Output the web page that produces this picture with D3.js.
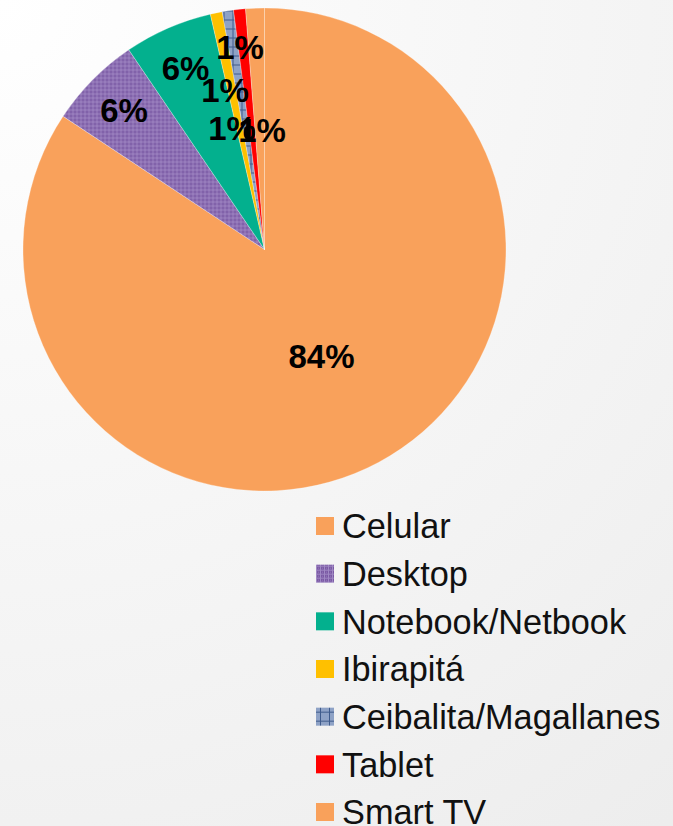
<!DOCTYPE html>
<html>
<head>
<meta charset="utf-8">
<script src="https://cdn.jsdelivr.net/npm/d3@7"></script>
<style>
  html, body { margin: 0; padding: 0; }
  body { width: 673px; height: 826px; overflow: hidden; }
</style>
</head>
<body>
<div id="pie-chart"></div>
<script>
(function() {
  var width = 673,
    height = 826;

  // categories and their share
  var categories = ["Celular", "Desktop", "Notebook/Netbook", "Ibirapitá", "Ceibalita/Magallanes", "Tablet", "Smart TV"]
  var shares = [84.3, 6.2, 5.9, 0.8, 0.75, 0.8, 1.25]
  var labels = ["84%", "6%", "6%", "1%", "1%", "1%", "1%"]

  // where Excel dropped each label: angle (deg from 12 o'clock) and fraction of radius
  var labelAngles = [151.8, 314.8, 336.5, 346.1, 353.1, 345.0, 358.8]
  var labelRadii = [0.5, 0.82, 0.82, 0.68, 0.845, 0.52, 0.495]

  var fills = ["#f9a15b", "url(#grid-small)", "#03b08e", "#ffc000", "url(#grid-large)", "#ff0000", "#f9a15b"]

  var cx = 264.5, cy = 249.5, radius = 241.5;

  var svg = d3.select("#pie-chart")
    .append("svg")
    .attr("width", width)
    .attr("height", height);

  var defs = svg.append("defs");

  var bg = defs.append("radialGradient")
    .attr("id", "bg")
    .attr("gradientUnits", "userSpaceOnUse")
    .attr("cx", 0).attr("cy", 0).attr("r", 1060);
  bg.append("stop").attr("offset", "0%").attr("stop-color", "#ffffff");
  bg.append("stop").attr("offset", "100%").attr("stop-color", "#ededed");

  // purple small-grid pattern (Desktop)
  var small = defs.append("pattern")
    .attr("id", "grid-small")
    .attr("patternUnits", "userSpaceOnUse")
    .attr("width", 4).attr("height", 4);
  small.append("rect").attr("width", 4).attr("height", 4).attr("fill", "#7b5aa4");
  small.append("rect").attr("x", 0).attr("y", 0).attr("width", 4).attr("height", 1).attr("fill", "#a088c4");
  small.append("rect").attr("x", 0).attr("y", 0).attr("width", 1).attr("height", 4).attr("fill", "#a088c4");
  small.append("rect").attr("x", 2).attr("y", 2).attr("width", 1).attr("height", 1).attr("fill", "#9478bb");

  // blue large-grid pattern (Ceibalita)
  var large = defs.append("pattern")
    .attr("id", "grid-large")
    .attr("patternUnits", "userSpaceOnUse")
    .attr("width", 9).attr("height", 9);
  large.append("rect").attr("width", 9).attr("height", 9).attr("fill", "#8ea2c6");
  large.append("rect").attr("x", 0).attr("y", 4).attr("width", 9).attr("height", 1).attr("fill", "#3f5b8c");
  large.append("rect").attr("x", 4).attr("y", 0).attr("width", 1).attr("height", 9).attr("fill", "#3f5b8c");

  svg.append("rect")
    .attr("width", width)
    .attr("height", height)
    .attr("fill", "url(#bg)");

  var colourScale = d3.scaleOrdinal().domain(categories).range(fills);

  var data = categories.map(function(c, i) {
    return { name: c, value: shares[i], label: labels[i], la: labelAngles[i], lr: labelRadii[i] }
  });

  var pie = d3.pie()
    .sort(null)
    .value(function(d) { return d.value });

  var arc = d3.arc()
    .innerRadius(0)
    .outerRadius(radius);

  var g = svg.append("g")
    .attr("transform", "translate(" + cx + "," + cy + ")");

  g.selectAll("path")
    .data(pie(data))
    .enter().append("path")
    .attr("d", arc)
    .attr("fill", function(d) { return colourScale(d.data.name) })
    .attr("stroke", "rgba(255,255,255,0.35)")
    .attr("stroke-width", 0.8);

  // slice labels
  g.selectAll("text.pct")
    .data(data)
    .enter().append("text")
    .attr("class", "pct")
    .attr("text-anchor", "middle")
    .attr("dy", "0.36em")
    .attr("x", function(d) { return Math.sin(d.la * Math.PI / 180) * d.lr * radius })
    .attr("y", function(d) { return -Math.cos(d.la * Math.PI / 180) * d.lr * radius })
    .text(function(d) { return d.label })
    .style("font-family", "Liberation Sans, Arial, sans-serif")
    .style("font-weight", "bold")
    .style("font-size", "33px")
    .style("fill", "#000");

  // legend
  var legendY = d3.scalePoint().domain(categories).range([526, 812]);

  var legend = svg.selectAll("g.legend")
    .data(categories)
    .enter().append("g")
    .attr("class", "legend")
    .attr("transform", function(d) { return "translate(316," + legendY(d) + ")" });

  legend.append("rect")
    .attr("x", 0)
    .attr("y", -9)
    .attr("width", 18)
    .attr("height", 18)
    .attr("fill", function(d) { return colourScale(d) });

  legend.append("text")
    .attr("x", 26)
    .attr("dy", "0.36em")
    .text(function(d) { return d })
    .style("font-family", "Liberation Sans, Arial, sans-serif")
    .style("font-size", "34.3px")
    .style("fill", "#111");
})();
</script>
</body>
</html>
